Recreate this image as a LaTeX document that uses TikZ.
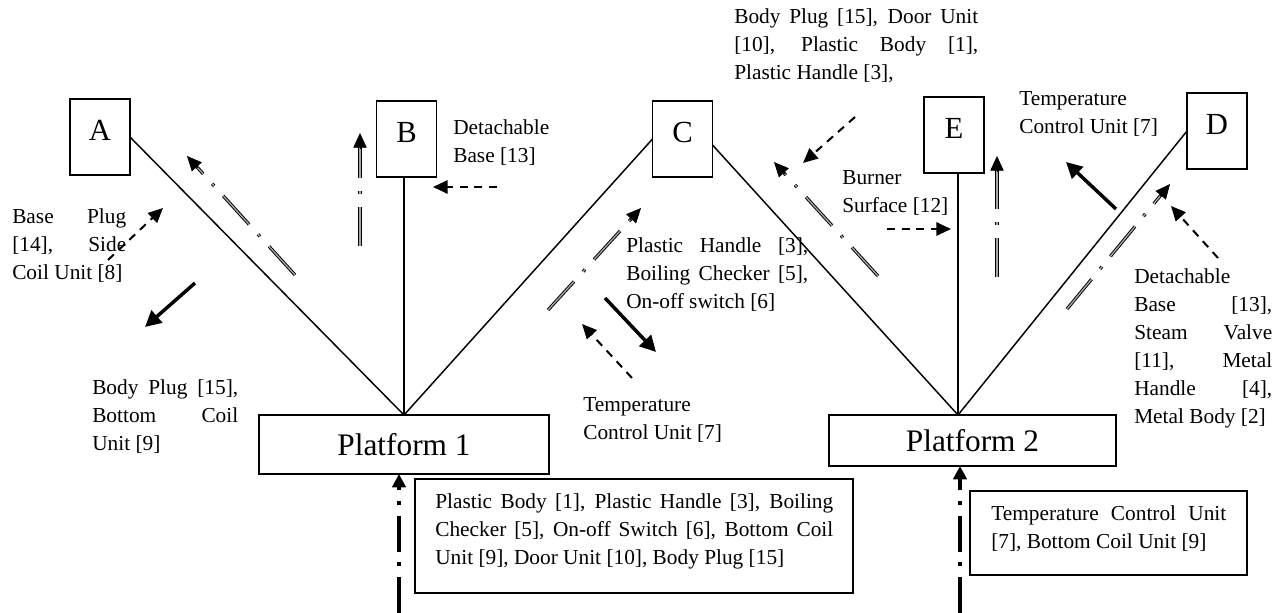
\documentclass[tikz,border=0pt]{standalone}
\usepackage{fontspec}
\setmainfont{Liberation Serif}
\usetikzlibrary{arrows.meta,calc}
\newcommand\jl[2]{\makebox[#1][s]{#2}}
\newcommand\ddarrow[2]{\draw[ddline] (#1) -- ($(#2)!9pt!(#1)$);\draw[ddtip] ($(#2)!12pt!(#1)$) -- (#2);}
\begin{document}
\begin{tikzpicture}[x=0.75pt,y=-0.75pt,
  lbox/.style={draw,line width=1.1pt,minimum width=45pt,minimum height=57pt,inner sep=0pt,outer sep=0pt,font=\fontsize{23}{27}\selectfont,text height=15.2pt,text depth=10.5pt},
  pbox/.style={draw,line width=1.1pt,inner sep=0pt,outer sep=0pt,font=\fontsize{23.5}{28}\selectfont},
  tbox/.style={draw,line width=1pt,inner sep=0pt,outer sep=0pt},
  txt/.style={anchor=west,inner sep=0pt,align=left,font=\fontsize{16}{21}\selectfont},
  link/.style={line width=1.1pt},
  ddline/.style={double=gray!70,double distance=1pt,line width=0.7pt,dash pattern=on 29pt off 10pt on 2.2pt off 10pt},
  ddtip/.style={line width=0.6pt,-{Triangle[length=11pt,width=10pt]}},
  sa/.style={line width=2.6pt,-{Triangle[length=12pt,width=12pt]}},
  da/.style={line width=1.5pt,dash pattern=on 6pt off 5pt,-{Triangle[length=11pt,width=10pt]}},
  bd/.style={line width=2.4pt,dash pattern=on 27pt off 8pt on 3pt off 8pt,-{Triangle[length=10pt,width=10pt]}}
]
\useasboundingbox (0,0) rectangle (1275,613);
% letter boxes
\node[lbox] (A) at (100,137) {A};
\node[lbox] (B) at (406.5,139) {B};
\node[lbox] (C) at (682.5,139) {C};
\node[lbox] (E) at (954,135) {E};
\node[lbox] (D) at (1217,131) {D};
% platforms
\node[pbox,minimum width=217.5pt,minimum height=44.25pt] (P1) at (404,444.5) {Platform 1};
\node[pbox,minimum width=215.25pt,minimum height=38.25pt] (P2) at (972.5,440.5) {Platform 2};
\coordinate (a2) at (958,415);
% links
\draw[link] (A.east) -- (P1.north);
\draw[link] (P1.north |- B.south) -- (P1.north);
\draw[link] (C.west) -- (P1.north);
\draw[link] ([yshift=-4.5pt]C.east) -- (a2);
\draw[link] (a2 |- E.south) -- (a2);
\draw[link] (D.west) -- (a2);
% texts
\node[txt] (tA) at (12,245.5) {\jl{85.5pt}{Base Plug}\\\jl{85.5pt}{[14], Side}\\Coil Unit [8]};
\node[txt] (tB) at (92,417) {\jl{109.5pt}{Body Plug [15],}\\\jl{109.5pt}{Bottom Coil}\\Unit [9]};
\node[txt] (tC) at (453,143) {Detachable\\Base [13]};
\node[txt] (tD) at (626,275) {\jl{136.5pt}{Plastic Handle [3],}\\\jl{136.5pt}{Boiling Checker [5],}\\On-off switch [6]};
\node[txt] (tE) at (583,419.5) {Temperature\\Control Unit [7]};
\node[txt] (tF) at (734,46) {\jl{183pt}{Body Plug [15], Door Unit}\\\jl{183pt}{[10], Plastic Body [1],}\\Plastic Handle [3],};
\node[txt] (tG) at (842,192.5) {Burner\\Surface [12]};
\node[txt] (tH) at (1019,113.5) {Temperature\\Control Unit [7]};
\node[txt] (tI) at (1134,348) {Detachable\\\jl{103.5pt}{Base [13],}\\\jl{103.5pt}{Steam Valve}\\\jl{103.5pt}{[11], Metal}\\\jl{103.5pt}{Handle [4],}\\Metal Body [2]};
% bottom boxes
\node[tbox,minimum width=328.5pt,minimum height=85.5pt] (BX1) at (634,536) {};
\node[txt] (t1) at (435,531) {\jl{298.5pt}{Plastic Body [1], Plastic Handle [3], Boiling}\\\jl{298.5pt}{Checker [5], On-off Switch [6], Bottom Coil}\\Unit [9], Door Unit [10], Body Plug [15]};
\node[tbox,minimum width=207.75pt,minimum height=63pt] (BX2) at (1108.5,533) {};
\node[txt] (t2) at (991,529) {\jl{176.25pt}{Temperature Control Unit}\\{}[7], Bottom Coil Unit [9]};
% double dash-dot arrows
\ddarrow{295,275}{187,156}
\ddarrow{360,246}{360,133}
\ddarrow{548,310}{641,208}
\ddarrow{878,276}{774,162}
\ddarrow{997,277}{997,156}
\ddarrow{1067,309}{1170,184}
% solid arrows
\draw[sa] (195,283) -- (145,327);
\draw[sa] (605,298) -- (656,352);
\draw[sa] (1116,209) -- (1066,162);
% dashed arrows
\draw[da] (108,260) -- (163,208);
\draw[da] (497,187) -- (433,187);
\draw[da] (632,378) -- (582,324);
\draw[da] (855,117) -- (803,163);
\draw[da] (887,229) -- (951,229);
\draw[da] (1218,258) -- (1171,206);
% bottom arrows
\coordinate (b1) at (399,613);
\coordinate (b2) at (960,613);
\draw[bd] (b1) -- (b1 |- P1.south);
\draw[bd] (b2) -- (b2 |- P2.south);
\end{tikzpicture}
\end{document}
